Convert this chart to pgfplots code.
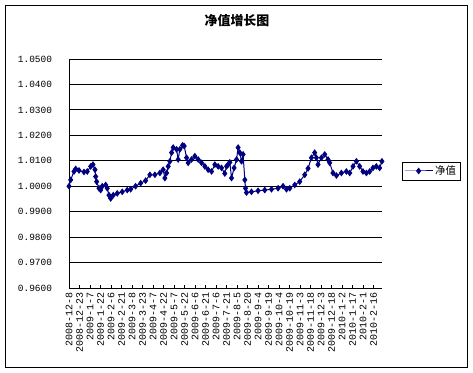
\documentclass[border=0pt]{standalone}
\usepackage{fontspec}
\usepackage{pgfplots}
\pgfplotsset{compat=1.18}
\setmainfont{Liberation Sans}
\newfontfamily\cjk{Noto Sans CJK SC}
\newfontfamily\mono{Liberation Mono}
\definecolor{navy}{RGB}{0,0,128}
\begin{document}
\begin{tikzpicture}
\useasboundingbox (0bp,0bp) rectangle (473bp,373bp);
\fill[white] (0bp,0bp) rectangle (473bp,373bp);
\draw[black, line width=1bp] (5.5bp,5.5bp) rectangle (467.5bp,367.5bp);
\node[font=\cjk\bfseries\fontsize{13}{15}\selectfont] at (237bp,352bp) {净值增长图};
\begin{axis}[
  at={(69bp,85bp)}, anchor=south west,
  scale only axis, width=313bp, height=229bp,
  xmin=0, xmax=447, ymin=0.96, ymax=1.05,
  axis x line=bottom, axis y line=left,
  axis line style={black, line width=0.8bp, -},
  ytick={0.96,0.97,0.98,0.99,1.00,1.01,1.02,1.03,1.04,1.05},
  ymajorgrids, grid style={black, line width=0.8bp},
  ytick style={draw=none},
  yticklabel style={font=\mono\fontsize{9.5}{11}\selectfont, xshift=-12bp,
    /pgf/number format/fixed, /pgf/number format/fixed zerofill, /pgf/number format/precision=4, /pgf/number format/assume math mode=true},
  xtick={0,15,...,435},
  xticklabels={2008-12-8,2008-12-23,2009-1-7,2009-1-22,2009-2-6,2009-2-21,2009-3-8,2009-3-23,2009-4-7,2009-4-22,2009-5-7,2009-5-22,2009-6-6,2009-6-21,2009-7-6,2009-7-21,2009-8-5,2009-8-20,2009-9-4,2009-9-19,2009-10-4,2009-10-19,2009-11-3,2009-11-18,2009-12-3,2009-12-18,2010-1-2,2010-1-17,2010-2-1,2010-2-16},
  xticklabel style={rotate=90, anchor=east, font=\mono\fontsize{10}{11}\selectfont, xshift=-1bp},
  xtick align=inside, major tick length=3bp,
  xtick style={black, line width=0.6bp},
  clip=false,
  legend style={at={(1.064,0.511)}, anchor=west, draw=black, line width=0.6bp, font=\cjk\fontsize{10.5}{12}\selectfont, inner sep=1.8bp},
  legend image code/.code={\draw[#1, mark repeat=2, mark phase=2] plot coordinates {(0bp,0bp) (14bp,0bp) (28bp,0bp)};},
]
\addplot[navy, line width=1bp, mark=diamond*, mark size=2.6bp, mark options={solid, fill=navy}] coordinates {
(0,1.0000) (2.4,1.0025) (7.1,1.0058) (9.6,1.0068) (14.3,1.0062) (21.4,1.0056)
(26.1,1.0058) (31.0,1.0078) (34.2,1.0085) (37.1,1.0065) (38.1,1.0038) (39.5,1.0018)
(42.8,0.9992) (45.2,0.9985) (47.5,1.0000) (52.4,1.0005) (54.6,0.9992) (57.1,0.9965)
(59.5,0.9952) (63.2,0.9965) (68.9,0.9972) (76.0,0.9978) (83.2,0.9985) (88.0,0.9988)
(95.1,1.0000) (102.3,1.0012) (109.4,1.0022) (115.5,1.0045) (122.7,1.0045) (129.8,1.0052)
(134.5,1.0065) (136.9,1.0032) (139.4,1.0052) (141.7,1.0078) (144.1,1.0098) (146.5,1.0132)
(148.8,1.0152) (153.6,1.0145) (155.9,1.0105) (158.3,1.0145) (162.2,1.0161) (164.5,1.0158)
(167.9,1.0112) (170.2,1.0092) (175.0,1.0105) (179.7,1.0118) (184.5,1.0105) (189.3,1.0092)
(194.0,1.0078) (198.7,1.0065) (203.6,1.0058) (208.3,1.0085) (213.0,1.0078) (217.8,1.0072)
(222.5,1.0050) (225.0,1.0078) (227.2,1.0085) (229.7,1.0094) (232.1,1.0032) (235.8,1.0072)
(239.3,1.0105) (241.5,1.0152) (243.9,1.0132) (246.4,1.0098) (248.6,1.0125) (251.1,1.0025)
(252.1,0.9992) (253.5,0.9975) (260.6,0.9978) (270.0,0.9982) (279.6,0.9985) (289.2,0.9988)
(298.6,0.9992) (305.7,1.0000) (310.6,0.9988) (315.3,0.9992) (322.4,1.0005) (329.5,1.0018)
(336.7,1.0045) (341.4,1.0070) (346.2,1.0112) (350.9,1.0132) (353.3,1.0112) (355.6,1.0085)
(360.5,1.0112) (365.2,1.0125) (369.9,1.0105) (372.3,1.0092) (377.0,1.0052) (381.9,1.0042)
(389.0,1.0052) (396.1,1.0058) (400.9,1.0052) (405.6,1.0078) (410.4,1.0098) (415.1,1.0078)
(419.8,1.0058) (424.7,1.0052) (429.4,1.0058) (434.1,1.0072) (438.9,1.0078) (443.6,1.0072)
(446.9,1.0098)
};
\addlegendentry{净值}
\end{axis}
\end{tikzpicture}
\end{document}
